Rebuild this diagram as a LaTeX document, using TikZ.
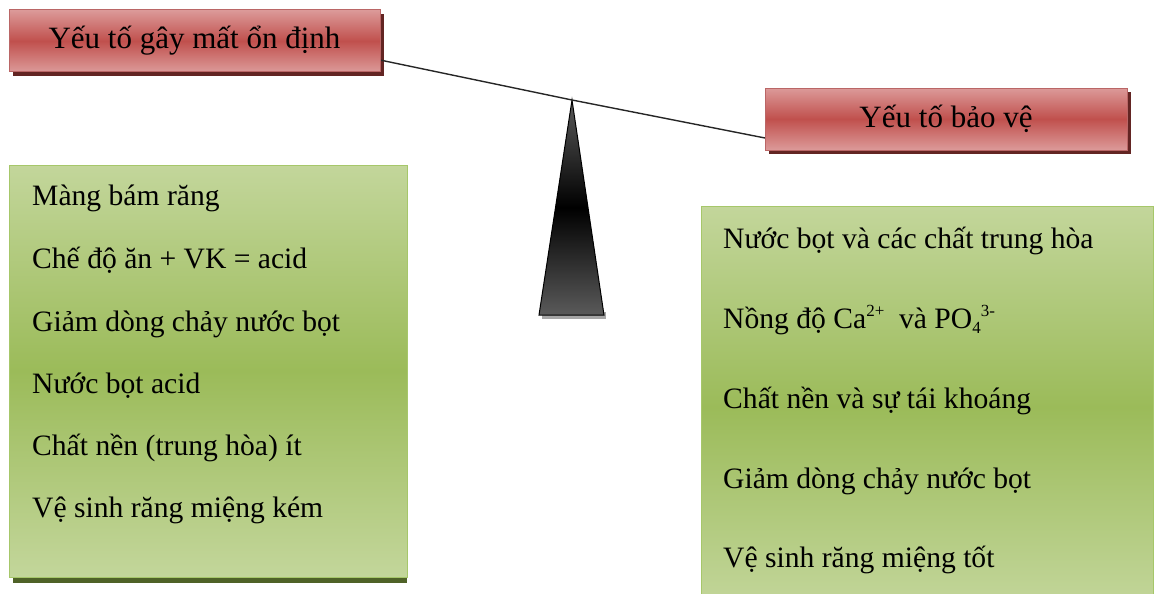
\documentclass[tikz,border=0pt]{standalone}
\usepackage{fontspec}
\setmainfont{Liberation Serif}
\newcommand{\supsc}[1]{\raisebox{0.38em}{\fontsize{17}{17}\selectfont #1}}
\newcommand{\subsc}[1]{\raisebox{-0.18em}{\fontsize{17}{17}\selectfont #1}}
\begin{document}
\begin{tikzpicture}[x=1pt,y=-1pt,
  redbox/.style={draw=red!55!black!60, line width=1pt, minimum height=62pt, inner sep=0pt,
    top color=redlight, bottom color=redlight, middle color=redmid,
    font=\fontsize{31}{34}\selectfont},
  greenbox/.style={draw=greenedge, line width=1pt, inner sep=0pt,
    top color=greenlight, bottom color=greenlight, middle color=greenmid},
  item/.style={anchor=base west, inner sep=0pt, font=\fontsize{29.6}{32}\selectfont},
  beam/.style={draw=black!85, line width=1.4pt}
]
\definecolor{redlight}{HTML}{DC9A99}
\definecolor{redmid}{HTML}{C0504D}
\definecolor{redshadow}{HTML}{632523}
\definecolor{greenlight}{HTML}{C3D69B}
\definecolor{greenmid}{HTML}{9BBB59}
\definecolor{greenedge}{HTML}{A6C76A}
\definecolor{greenshadow}{HTML}{4F6228}
\definecolor{fulcrumgray}{HTML}{5A5A5A}
\useasboundingbox (0,0) rectangle (1154,594);
\clip (0,0) rectangle (1154,594);
% shadows
\fill[redshadow] (13,14) rectangle (384,76);
\fill[redshadow] (769,92) rectangle (1131,154);
\fill[greenshadow] (13,169) rectangle (407,583);
\fill[black!35] (542,312) rectangle (606,319);
% beam
\coordinate (beamL) at (380,60);
\coordinate (beamR) at (765,138);
% fulcrum
\shade[top color=fulcrumgray, bottom color=fulcrumgray, middle color=black, draw=black, line width=1pt]
  (572,100) coordinate (apex) -- (604,315) -- (539,315) -- cycle;
\draw[beam] (beamL) -- (apex) -- (beamR);
% title boxes
\node[redbox, minimum width=371pt] (destab) at (194.5,41) {Yếu tố gây mất ổn định};
\node[redbox, minimum width=362pt] (protect) at (946,119) {Yếu tố bảo vệ};
% green boxes
\node[greenbox, minimum width=398pt, minimum height=412pt] (left) at (208,371) {};
\node[greenbox, minimum width=452pt, minimum height=402pt] (right) at (927,407) {};
% left items
\node[item] (l1) at (32,205) {Màng bám răng};
\node[item] (l2) at (32,268) {Chế độ ăn + VK = acid};
\node[item] (l3) at (32,331) {Giảm dòng chảy nước bọt};
\node[item] (l4) at (32,393) {Nước bọt acid};
\node[item] (l5) at (32,455) {Chất nền (trung hòa) ít};
\node[item] (l6) at (32,517) {Vệ sinh răng miệng kém};
% right items
\node[item] (r1) at (723,248) {Nước bọt và các chất trung hòa};
\node[item] (r2) at (723,328) {Nồng độ Ca\supsc{2+}\ \ và PO\subsc{4}\supsc{3-}};
\node[item] (r3) at (723,408) {Chất nền và sự tái khoáng};
\node[item] (r4) at (723,488) {Giảm dòng chảy nước bọt};
\node[item] (r5) at (723,567) {Vệ sinh răng miệng tốt};
\end{tikzpicture}
\end{document}
